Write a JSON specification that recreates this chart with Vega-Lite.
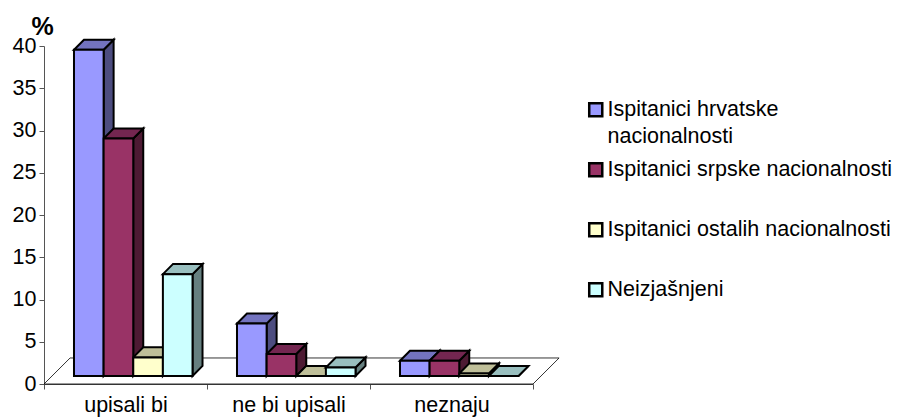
{
"$schema":"https://vega.github.io/schema/vega-lite/v6.json",
"width":489,"height":338,
"autosize":{"type":"none"},
"padding":{"left":44,"top":46,"right":368,"bottom":33},
"background":"white",
"config":{"view":{"stroke":null},"font":"Liberation Sans"},
"datasets":{
"bars":[
{"kategorija":"upisali bi","skupina":"Ispitanici hrvatske nacionalnosti","postotak":38.6},
{"kategorija":"upisali bi","skupina":"Ispitanici srpske nacionalnosti","postotak":28.1},
{"kategorija":"upisali bi","skupina":"Ispitanici ostalih nacionalnosti","postotak":2.2},
{"kategorija":"upisali bi","skupina":"Neizjašnjeni","postotak":12.05},
{"kategorija":"ne bi upisali","skupina":"Ispitanici hrvatske nacionalnosti","postotak":6.2},
{"kategorija":"ne bi upisali","skupina":"Ispitanici srpske nacionalnosti","postotak":2.6},
{"kategorija":"ne bi upisali","skupina":"Ispitanici ostalih nacionalnosti","postotak":0},
{"kategorija":"ne bi upisali","skupina":"Neizjašnjeni","postotak":1.0},
{"kategorija":"neznaju","skupina":"Ispitanici hrvatske nacionalnosti","postotak":1.8},
{"kategorija":"neznaju","skupina":"Ispitanici srpske nacionalnosti","postotak":1.8},
{"kategorija":"neznaju","skupina":"Ispitanici ostalih nacionalnosti","postotak":0.3},
{"kategorija":"neznaju","skupina":"Neizjašnjeni","postotak":0}
]},
"data":{"name":"bars"},
"layer":[
{
"data":{"values":[{"pod":"pod"}]},
"transform":[
{"calculate":"[0,1]","as":"t"},{"flatten":["t"]},
{"calculate":"datum.t*0.16","as":"xa"},
{"calculate":"3+datum.t*0.16","as":"xb"},
{"calculate":"datum.t*3.08","as":"yy"}
],
"mark":{"type":"area","orient":"horizontal","fill":"white","stroke":"black","strokeWidth":0.8},
"encoding":{
"y":{"field":"yy","type":"quantitative","scale":{"domain":[0,40],"nice":false},
"axis":{"values":[0,5,10,15,20,25,30,35,40],"title":"%","titleAngle":0,"titleX":-2,"titleY":-12,"titleFontSize":25,"titleFontWeight":"bold","titleColor":"black","titleAlign":"center","titleBaseline":"alphabetic","labelFontSize":21.5,"labelColor":"black","labelPadding":3,"tickSize":5,"tickColor":"#555","domainColor":"#555","grid":false}},
"x":{"field":"xa","type":"quantitative","scale":{"domain":[0,3],"nice":false},
"axis":{"values":[0,0.5,1,1.5,2,2.5,3],"title":null,"grid":false,"labelFontSize":21.5,"labelColor":"black","labelPadding":5,"tickSize":5,"tickColor":"#555","domainColor":"#555",
"tickOpacity":{"condition":{"test":"datum.value % 1 != 0","value":0},"value":1},
"labelExpr":"datum.value==0.5?'upisali bi':datum.value==1.5?'ne bi upisali':datum.value==2.5?'neznaju':''"}},
"x2":{"field":"xb"}
}
},
{
"transform":[
{"calculate":"indexof(['upisali bi','ne bi upisali','neznaju'],datum.kategorija)","as":"c"},
{"calculate":"indexof(['Ispitanici hrvatske nacionalnosti','Ispitanici srpske nacionalnosti','Ispitanici ostalih nacionalnosti','Neizjašnjeni'],datum.skupina)","as":"s"},
{"calculate":"datum.c+0.184+datum.s*0.1818","as":"xl"},
{"calculate":"datum.xl+0.1818","as":"xr"},
{"calculate":"datum.postotak+0.95","as":"vt"},
{"calculate":"datum.kategorija+datum.skupina","as":"id"}
],
"layer":[
{
"transform":[
{"calculate":"[0,1]","as":"t"},{"flatten":["t"]},
{"calculate":"datum.xr+datum.t*0.0613","as":"sx"},
{"calculate":"datum.vt+datum.t*1.19","as":"sy"},
{"calculate":"0.95+datum.t*1.19","as":"sy2"}
],
"mark":{"type":"area","stroke":"black","strokeWidth":2,"strokeJoin":"miter"},
"encoding":{
"x":{"field":"sx","type":"quantitative"},
"y":{"field":"sy","type":"quantitative"},
"y2":{"field":"sy2"},
"detail":{"field":"id"},
"fill":{"field":"skupina","type":"nominal","legend":null,"scale":{"domain":["Ispitanici hrvatske nacionalnosti","Ispitanici srpske nacionalnosti","Ispitanici ostalih nacionalnosti","Neizjašnjeni"],"range":["#4d4d80","#4d1a33","#808066","#668080"]}}
}
},
{
"transform":[
{"calculate":"[0,1]","as":"t"},{"flatten":["t"]},
{"calculate":"datum.xl+datum.t*0.0613","as":"tx"},
{"calculate":"datum.xr+datum.t*0.0613","as":"tx2"},
{"calculate":"datum.vt+datum.t*1.19","as":"ty"}
],
"mark":{"type":"area","orient":"horizontal","stroke":"black","strokeWidth":2,"strokeJoin":"miter"},
"encoding":{
"y":{"field":"ty","type":"quantitative"},
"x":{"field":"tx","type":"quantitative"},
"x2":{"field":"tx2"},
"detail":{"field":"id"},
"fill":{"field":"skupina","type":"nominal","legend":null,"scale":{"domain":["Ispitanici hrvatske nacionalnosti","Ispitanici srpske nacionalnosti","Ispitanici ostalih nacionalnosti","Neizjašnjeni"],"range":["#7373bf","#732650","#bfbf99","#99bfbf"]}}
}
},
{
"mark":{"type":"rect","stroke":"black","strokeWidth":2,"strokeJoin":"miter"},
"transform":[{"calculate":"0.95","as":"base"}],
"encoding":{
"x":{"field":"xl","type":"quantitative"},
"x2":{"field":"xr"},
"y":{"field":"vt","type":"quantitative"},
"y2":{"field":"base"},
"fill":{"field":"skupina","type":"nominal","scale":{"domain":["Ispitanici hrvatske nacionalnosti","Ispitanici srpske nacionalnosti","Ispitanici ostalih nacionalnosti","Neizjašnjeni"],"range":["#9999ff","#993366","#ffffcc","#ccffff"]},
"legend":{"orient":"none","legendX":541,"legendY":53,"title":null,"columns":1,"gridAlign":"all","rowPadding":10,"symbolType":"square","symbolSize":170,"symbolStrokeColor":"black","symbolStrokeWidth":2.5,"labelFontSize":21.5,"labelColor":"black","labelOffset":1,"labelLimit":400,
"labelExpr":"datum.value=='Ispitanici hrvatske nacionalnosti'?['Ispitanici hrvatske','nacionalnosti']:datum.value",
"encode":{"labels":{"update":{"lineHeight":{"value":27}}}}}}
}
}
],
"resolve":{"scale":{"fill":"independent"}}
}
]
}
